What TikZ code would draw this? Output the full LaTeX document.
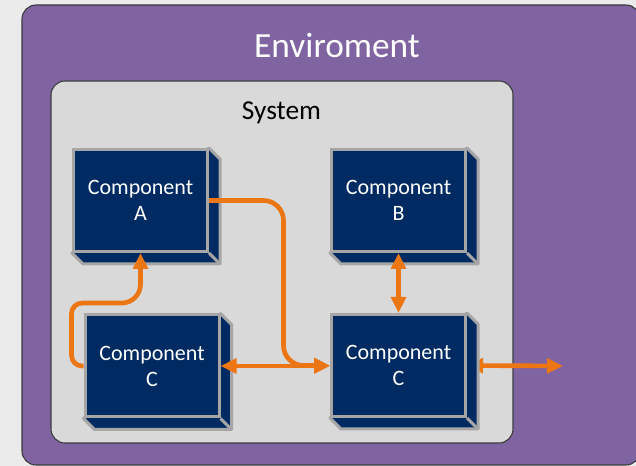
\documentclass[tikz,border=0pt]{standalone}
\usepackage{fontspec}
\setmainfont{Carlito}
\usetikzlibrary{arrows.meta,calc}
\pgfdeclarelayer{bg}
\pgfdeclarelayer{arrback}
\pgfdeclarelayer{ext}
\pgfdeclarelayer{front}
\pgfsetlayers{bg,arrback,ext,main,front}
\definecolor{envpurple}{HTML}{8064A2}
\definecolor{sysgray}{HTML}{D9D9D9}
\definecolor{navy}{HTML}{002B62}
\definecolor{rimgray}{HTML}{A6A6A6}
\definecolor{conorange}{HTML}{EC7614}
\definecolor{pagebg}{HTML}{EBEBEB}
\definecolor{edgedark}{HTML}{3A3A3A}
\tikzset{
  comp/.style={rectangle, draw=rimgray, fill=navy, line width=2.25pt,
    minimum width=100.5pt, minimum height=76.5pt, inner sep=0pt,
    align=center, text=white, font=\fontsize{16.5}{19.5}\selectfont},
  compside/.style={draw=rimgray, fill=navy, line width=2.25pt, line join=round},
  conn/.style={draw=conorange, line width=3.5pt, rounded corners=15pt},
  onetip/.style={-{Triangle[length=12pt,width=11pt]}},
  twotip/.style={{Triangle[length=12pt,width=11pt]}-{Triangle[length=12pt,width=11pt]}},
  panel/.style={draw=edgedark, line width=0.8pt, rounded corners=10.5pt},
}
\begin{document}
\begin{tikzpicture}[x=0.75pt,y=-0.75pt]
\useasboundingbox (0,0) rectangle (636,466);
\begin{pgfonlayer}{bg}
  \fill[pagebg] (0,0) rectangle (636,466);
  \draw[panel, fill=envpurple] (22,5) rectangle (640,465);
  \draw[panel, fill=sysgray] (51,81) rectangle (513,443);
\end{pgfonlayer}
\node[anchor=base, text=white, font=\fontsize{26.5}{30}\selectfont] (envlabel) at (337,58) {Enviroment};
\node[anchor=base, text=black, font=\fontsize{20.5}{24}\selectfont] (syslabel) at (281.5,120) {System};

\node[comp] (A)  at (140.5,200.5) {Component\\A};
\node[comp] (B)  at (398.5,200.5) {Component\\B};
\node[comp] (C1) at (152,366)     {Component\\C};
\node[comp] (C2) at (398.5,365.5) {Component\\C};
\coordinate (out) at (563,366);

\begin{pgfonlayer}{ext}
  \foreach \n in {A,B,C1,C2}{
    \draw[compside] (\n.north east) -- ++(11,11) -- ($(\n.south east)+(11,11)$)
      -- ($(\n.south west)+(11,11)$) -- (\n.south west) -- cycle;
    \draw[compside] (\n.south east) -- ++(11,11);
  }
\end{pgfonlayer}

\begin{pgfonlayer}{arrback}
  \draw[conn, twotip] (C2.east) -- (out);
\end{pgfonlayer}

\begin{pgfonlayer}{front}
  \draw[conn, onetip] (A.east) -- ++(74.5,0) |- (C2.west);
  \draw[conn, twotip] (C1.east) -- (C1.east -| C2.west);
  \draw[conn, twotip] (B.south) -- (C2.north);
  \draw[conn, onetip] (C1.west) [rounded corners=8pt] -- ++(-12,0) -- ++(0,-63)
    [rounded corners=14pt] -| (A.south);
\end{pgfonlayer}
\end{tikzpicture}
\end{document}
